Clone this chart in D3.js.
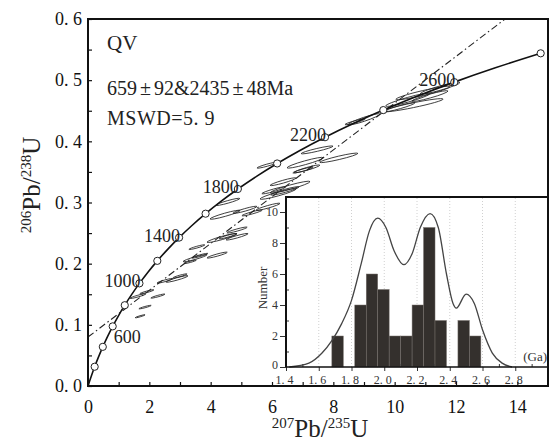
<!DOCTYPE html>
<html>
<head>
<meta charset="utf-8">
<script src="https://cdn.jsdelivr.net/npm/d3@7"></script>
<style>
  body { margin: 0; background: #fff; }
  svg { display: block; }
</style>
</head>
<body>
<svg width="549" height="445" font-family="'Liberation Serif', 'Times New Roman', 'DejaVu Serif', serif"></svg>
<script>
// concordia, every 100 Ma: age, 207Pb/235U, 206Pb/238U
const concAge = [0, 100, 200, 300, 400, 500, 600, 700, 800, 900, 1000, 1100, 1200, 1300, 1400,
  1500, 1600, 1700, 1800, 1900, 2000, 2100, 2200, 2300, 2400, 2500, 2600, 2700, 2800];
const concX = [0, 0.1035, 0.2177, 0.3437, 0.4828, 0.6363, 0.8056, 0.9925, 1.1987, 1.4263, 1.6774,
  1.9545, 2.2603, 2.5977, 2.9701, 3.3809, 3.8344, 4.3347, 4.8869, 5.4961, 6.1685, 6.9104,
  7.7292, 8.6326, 9.6296, 10.7297, 11.9437, 13.2833, 14.7616];
const concY = [0, 0.0156, 0.0315, 0.0476, 0.0640, 0.0807, 0.0975, 0.1147, 0.1321, 0.1498, 0.1678,
  0.1861, 0.2046, 0.2234, 0.2426, 0.2620, 0.2817, 0.3018, 0.3221, 0.3428, 0.3638, 0.3851,
  0.4067, 0.4287, 0.4511, 0.4737, 0.4968, 0.5202, 0.5439];
const markedAges = [200, 400, 600, 800, 1000, 1200, 1400, 1600, 1800, 2000, 2200, 2400, 2600, 2800];
const labelAges = [600, 1000, 1400, 1800, 2200, 2600];

// regression line ends (207/235, 206/238)
const discordX = [0, 13.6];
const discordY = [0.080, 0.600];

// analyses: 207/235, 206/238, half-error 207/235, half-error 206/238
const spots = [
  [10.60, 0.459, 0.98, 0.0108], [10.43, 0.468, 0.72, 0.0108], [10.92, 0.479, 0.88, 0.0110],
  [10.17, 0.456, 0.49, 0.0074], [11.15, 0.474, 0.59, 0.0088], [11.48, 0.487, 0.65, 0.0098],
  [9.00, 0.436, 0.52, 0.0092], [8.71, 0.432, 0.33, 0.0049], [7.47, 0.386, 0.52, 0.0065],
  [7.08, 0.365, 0.59, 0.0088], [8.18, 0.373, 0.62, 0.0078], [7.14, 0.355, 0.42, 0.0064],
  [7.01, 0.353, 0.33, 0.0049], [6.36, 0.334, 0.42, 0.0064], [6.59, 0.325, 0.65, 0.0098],
  [6.20, 0.314, 0.59, 0.0088], [6.42, 0.319, 0.46, 0.0069], [5.84, 0.361, 0.33, 0.0049],
  [6.06, 0.320, 0.39, 0.0059], [4.56, 0.301, 0.39, 0.0059], [4.47, 0.280, 0.49, 0.0074],
  [5.12, 0.288, 0.39, 0.0059], [5.35, 0.283, 0.33, 0.0049], [5.87, 0.293, 0.39, 0.0059],
  [4.86, 0.255, 0.33, 0.0049], [4.37, 0.242, 0.49, 0.0074], [4.86, 0.244, 0.36, 0.0054],
  [4.56, 0.245, 0.29, 0.0044], [3.55, 0.227, 0.26, 0.0039], [3.49, 0.209, 0.39, 0.0059],
  [3.65, 0.213, 0.26, 0.0039], [4.21, 0.214, 0.33, 0.0049], [2.90, 0.175, 0.36, 0.0054],
  [3.00, 0.180, 0.23, 0.0034], [2.51, 0.172, 0.26, 0.0039], [1.92, 0.154, 0.23, 0.0034],
  [1.63, 0.147, 0.26, 0.0039], [2.28, 0.147, 0.23, 0.0034], [1.86, 0.129, 0.20, 0.0029],
  [1.70, 0.114, 0.16, 0.0025], [3.33, 0.203, 0.20, 0.0029]
];
const rho = 0.93;

// age histogram (Ga)
const binStart = [1.68, 1.82, 1.89, 1.96, 2.03, 2.10, 2.17, 2.24, 2.31, 2.45, 2.52];
const binCount = [2, 4, 6, 5, 2, 2, 4, 9, 3, 3, 2];
const binWidth = 0.07;

// probability curve (Ga, count units)
const kdeAge = [1.42, 1.54, 1.62, 1.68, 1.74, 1.80, 1.86, 1.91, 1.96, 2.01, 2.06, 2.12, 2.17,
  2.22, 2.28, 2.33, 2.38, 2.42, 2.44, 2.50, 2.55, 2.60, 2.66, 2.72, 2.78];
const kdeVal = [0, 0.25, 0.9, 1.7, 2.8, 4.3, 6.7, 8.8, 9.6, 9.0, 7.5, 6.6, 7.3,
  9.0, 9.9, 9.0, 6.0, 4.1, 3.8, 4.7, 4.1, 2.4, 0.9, 0.25, 0];

const svg = d3.select("svg");
const x = d3.scaleLinear().domain([0, 15]).range([88, 548]);
const y = d3.scaleLinear().domain([0, 0.6]).range([386, 19]);

svg.append("defs").append("clipPath").attr("id", "plotclip")
  .append("rect").attr("x", 88).attr("y", 19).attr("width", 460).attr("height", 367);

const plot = svg.append("g").attr("clip-path", "url(#plotclip)");

// error ellipses
const kx = x(1) - x(0), ky = y(0) - y(1);
spots.forEach(([cx, cy, sx, sy]) => {
  const ax = sx * kx, ay = sy * ky;
  const a = ax * ax, b = ay * ay, c = -rho * ax * ay;
  const m = (a + b) / 2, d = Math.sqrt(((a - b) / 2) ** 2 + c * c);
  const r1 = Math.sqrt(m + d), r2 = Math.sqrt(Math.max(m - d, 0.15));
  const ang = 0.5 * Math.atan2(2 * c, a - b) * 180 / Math.PI;
  plot.append("ellipse")
    .attr("transform", `translate(${x(cx)},${y(cy)}) rotate(${ang})`)
    .attr("rx", r1).attr("ry", r2)
    .attr("fill", "none").attr("stroke", "#222").attr("stroke-width", 0.8);
});

// discordia
plot.append("line")
  .attr("x1", x(discordX[0])).attr("y1", y(discordY[0]))
  .attr("x2", x(discordX[1])).attr("y2", y(discordY[1]))
  .attr("stroke", "#222").attr("stroke-width", 1.1)
  .attr("stroke-dasharray", "7,3,1.5,3");

// concordia
const conc = concAge.map((t, i) => ({ t, x: concX[i], y: concY[i] }));
plot.append("path")
  .datum(conc)
  .attr("d", d3.line().x(d => x(d.x)).y(d => y(d.y)).curve(d3.curveCatmullRom))
  .attr("fill", "none").attr("stroke", "#111").attr("stroke-width", 1.6);

plot.selectAll("circle.age")
  .data(conc.filter(d => markedAges.includes(d.t)))
  .enter().append("circle")
  .attr("class", "age")
  .attr("cx", d => x(d.x)).attr("cy", d => y(d.y)).attr("r", 3.6)
  .attr("fill", "#fff").attr("stroke", "#222").attr("stroke-width", 1);

svg.selectAll("text.age")
  .data(conc.filter(d => labelAges.includes(d.t)))
  .enter().append("text")
  .attr("class", "age")
  .attr("x", d => x(d.x) + 1)
  .attr("y", d => d.t === 600 ? y(d.y) + 17 : y(d.y) + 4)
  .attr("text-anchor", d => d.t === 600 ? "start" : "end")
  .attr("font-size", 18).attr("fill", "#222")
  .text(d => d.t);

// annotation
svg.append("text").attr("x", 107).attr("y", 50).attr("font-size", 21).attr("fill", "#222").text("QV");
const t2 = svg.append("text").attr("x", 107).attr("y", 95).attr("font-size", 20).attr("fill", "#222");
t2.append("tspan").text("659");
t2.append("tspan").attr("dx", 3).text("±");
t2.append("tspan").attr("dx", 3).text("92&2435");
t2.append("tspan").attr("dx", 3).text("±");
t2.append("tspan").attr("dx", 3).text("48Ma");
svg.append("text").attr("x", 107).attr("y", 125).attr("font-size", 20).attr("fill", "#222")
  .attr("letter-spacing", 0.5).text("MSWD=5. 9");

// ---- inset histogram ----
const ix = d3.scaleLinear().domain([1.4, 3.0]).range([286, 548]);
const iy = d3.scaleLinear().domain([0, 10]).range([367, 212]);
const inset = svg.append("g");
inset.append("rect").attr("x", 286).attr("y", 197).attr("width", 262).attr("height", 188).attr("fill", "#fff");
inset.append("rect").attr("x", 266).attr("y", 367).attr("width", 20).attr("height", 18).attr("fill", "#fff");

inset.selectAll("line.grid")
  .data([1.6, 1.8, 2.0, 2.2, 2.4, 2.6, 2.8])
  .enter().append("line")
  .attr("x1", d => ix(d)).attr("x2", d => ix(d))
  .attr("y1", 198).attr("y2", 367)
  .attr("stroke", "#c4c4c4").attr("stroke-width", 0.8).attr("stroke-dasharray", "1,2");

inset.selectAll("rect.bar")
  .data(binStart.map((s, i) => ({ s, n: binCount[i] })))
  .enter().append("rect")
  .attr("x", d => ix(d.s)).attr("width", d => ix(d.s + binWidth) - ix(d.s))
  .attr("y", d => iy(d.n)).attr("height", d => iy(0) - iy(d.n))
  .attr("fill", "#34302d").attr("stroke", "#77716d").attr("stroke-width", 0.5);

inset.append("path")
  .datum(kdeAge.map((a, i) => [a, kdeVal[i]]))
  .attr("d", d3.line().x(d => ix(d[0])).y(d => iy(d[1])).curve(d3.curveMonotoneX))
  .attr("fill", "none").attr("stroke", "#444").attr("stroke-width", 1.3);

const fmt = d => d3.format(".1f")(d).replace(".", ". ");

function styleAxis(g, size, color) {
  g.attr("font-family", null).attr("font-size", null);
  g.selectAll("g").attr("font-family", null);
  g.selectAll("path.domain").remove();
  g.selectAll("text").attr("font-size", size).attr("fill", color);
  g.selectAll("line").attr("stroke", color);
}

const iyAxis = inset.append("g").attr("transform", "translate(286,0)")
  .call(d3.axisLeft(iy).tickValues([0, 2, 4, 6, 8, 10]).tickSize(6).tickPadding(2));
iyAxis.append("g").call(d3.axisLeft(iy).tickValues([1, 3, 5, 7, 9]).tickSize(-3).tickFormat(""));
styleAxis(iyAxis, 12, "#333");
iyAxis.selectAll(".tick text").filter(d => d === 0).attr("dy", "0.1em");

const ixAxis = inset.append("g").attr("transform", "translate(0,367)")
  .call(d3.axisBottom(ix).tickValues([1.4, 1.6, 1.8, 2.0, 2.2, 2.4, 2.6, 2.8]).tickSize(4).tickPadding(4).tickFormat(fmt));
ixAxis.append("g").call(d3.axisBottom(ix).tickValues([1.5, 1.7, 1.9, 2.1, 2.3, 2.5, 2.7, 2.9]).tickSize(-3).tickFormat(""));
styleAxis(ixAxis, 12, "#333");
ixAxis.selectAll("text").attr("dx", -2);

inset.append("path")
  .attr("d", "M286,367V197H548")
  .attr("fill", "none").attr("stroke", "#111").attr("stroke-width", 2);
inset.append("line").attr("x1", 286).attr("x2", 548).attr("y1", 367).attr("y2", 367)
  .attr("stroke", "#111").attr("stroke-width", 1.6);

inset.append("text").attr("transform", "translate(267,288) rotate(-90)")
  .attr("text-anchor", "middle").attr("font-size", 13).attr("fill", "#333").text("Number");
inset.append("text").attr("x", 547).attr("y", 361).attr("text-anchor", "end")
  .attr("font-size", 13).attr("fill", "#333").text("(Ga)");

// ---- main axes ----
const yAxis = svg.append("g").attr("transform", "translate(88,0)")
  .call(d3.axisLeft(y).tickValues(d3.range(0, 13).map(i => i * 0.05)).tickSize(-4).tickPadding(6)
    .tickFormat(d => Math.round(d * 100) % 10 === 0 ? fmt(d) : ""));
styleAxis(yAxis, 18, "#111");
yAxis.selectAll("line").attr("stroke-width", 1.2);

const xAxis = svg.append("g").attr("transform", "translate(0,386)")
  .call(d3.axisBottom(x).tickValues(d3.range(0, 15)).tickSize(-4).tickPadding(14)
    .tickFormat(d => d % 2 === 0 ? d : ""));
styleAxis(xAxis, 18, "#111");
xAxis.selectAll("line").attr("stroke-width", 1.2);

svg.append("rect").attr("x", 88).attr("y", 19).attr("width", 460).attr("height", 367)
  .attr("fill", "none").attr("stroke", "#111").attr("stroke-width", 2);

// axis titles
const xt = svg.append("text").attr("x", 320).attr("y", 437).attr("text-anchor", "middle")
  .attr("font-size", 25).attr("fill", "#222");
xt.append("tspan").attr("font-size", 15).attr("dy", -9).text("207");
xt.append("tspan").attr("dy", 9).text("Pb/");
xt.append("tspan").attr("font-size", 15).attr("dy", -9).text("235");
xt.append("tspan").attr("dy", 9).text("U");

const yt = svg.append("text").attr("transform", "translate(40,185) rotate(-90)")
  .attr("text-anchor", "middle").attr("font-size", 25).attr("fill", "#222");
yt.append("tspan").attr("font-size", 15).attr("dy", -9).text("206");
yt.append("tspan").attr("dy", 9).text("Pb/");
yt.append("tspan").attr("font-size", 15).attr("dy", -9).text("238");
yt.append("tspan").attr("dy", 9).text("U");
</script>
</body>
</html>
